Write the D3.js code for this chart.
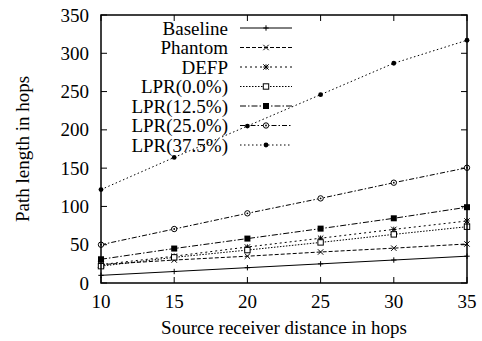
<!DOCTYPE html>
<html><head><meta charset="utf-8">
<script src="https://cdn.jsdelivr.net/npm/d3@7"></script>
<style>
body{margin:0;background:#fff;}
text{font-family:"Liberation Serif","Times New Roman",serif;fill:#000;}
</style></head>
<body><svg id="c" width="482" height="341"></svg>
<script>
const distances = [10, 15, 20, 25, 30, 35];
const seriesNames = ["Baseline","Phantom","DEFP","LPR(0.0%)","LPR(12.5%)","LPR(25.0%)","LPR(37.5%)"];
const baseline = [10, 15, 20, 25, 30, 35];
const phantom = [24, 30, 35, 40.5, 45.5, 51];
const defp = [24, 35, 47, 58.5, 70, 81];
const lpr00 = [22, 33.5, 43, 53, 63.5, 73.5];
const lpr125 = [31, 45, 58, 71, 84.5, 99];
const lpr250 = [50, 70.5, 91, 110.5, 131, 150.5];
const lpr375 = [122, 164, 205, 246, 287, 317];
const xTicks = [10, 15, 20, 25, 30, 35];
const yTicks = [0, 50, 100, 150, 200, 250, 300, 350];

const allValues = [baseline, phantom, defp, lpr00, lpr125, lpr250, lpr375];
const dashes = [null, "4,2", "2,3", "1.5,1.5", "6,2,1.5,2", "5,2,1.5,2", "1.5,2.5"];
const markers = ["plus","cross","star","osquare","fsquare","ocircle","fcircle"];

const svg = d3.select("#c");
const L=101, R=467, T=15, B=283;
const x = d3.scaleLinear().domain([10,35]).range([L,R]);
const y = d3.scaleLinear().domain([0,350]).range([B,T]);
const FS = "19px";

function drawMarker(g, type, cx, cy){
  const s=2.7;
  if(type==="plus"||type==="star"){
    g.append("line").attr("x1",cx-s).attr("x2",cx+s).attr("y1",cy).attr("y2",cy).attr("stroke","#000").attr("stroke-width",1);
    g.append("line").attr("x1",cx).attr("x2",cx).attr("y1",cy-s).attr("y2",cy+s).attr("stroke","#000").attr("stroke-width",1);
  }
  if(type==="cross"||type==="star"){
    g.append("line").attr("x1",cx-s).attr("x2",cx+s).attr("y1",cy-s).attr("y2",cy+s).attr("stroke","#000").attr("stroke-width",1);
    g.append("line").attr("x1",cx-s).attr("x2",cx+s).attr("y1",cy+s).attr("y2",cy-s).attr("stroke","#000").attr("stroke-width",1);
  }
  if(type==="osquare"){
    g.append("rect").attr("x",cx-s).attr("y",cy-s).attr("width",2*s).attr("height",2*s).attr("fill","#fff").attr("stroke","#000").attr("stroke-width",1);
  }
  if(type==="fsquare"){
    g.append("rect").attr("x",cx-s-0.3).attr("y",cy-s-0.3).attr("width",2*s+0.6).attr("height",2*s+0.6).attr("fill","#000");
  }
  if(type==="ocircle"){
    g.append("circle").attr("cx",cx).attr("cy",cy).attr("r",s).attr("fill","#fff").attr("stroke","#000").attr("stroke-width",1);
    g.append("circle").attr("cx",cx).attr("cy",cy).attr("r",0.9).attr("fill","#000");
  }
  if(type==="fcircle"){
    g.append("circle").attr("cx",cx).attr("cy",cy).attr("r",s-0.3).attr("fill","#000");
  }
}

// ticks (inward, mirrored)
const tk = svg.append("g");
xTicks.forEach(v=>{
  tk.append("line").attr("x1",x(v)).attr("x2",x(v)).attr("y1",B).attr("y2",B-6).attr("stroke","#000");
  tk.append("line").attr("x1",x(v)).attr("x2",x(v)).attr("y1",T).attr("y2",T+6).attr("stroke","#000");
  svg.append("text").attr("x",x(v)).attr("y",308).attr("text-anchor","middle").style("font-size",FS).text(v);
});
yTicks.forEach(v=>{
  tk.append("line").attr("x1",L).attr("x2",L+6).attr("y1",y(v)).attr("y2",y(v)).attr("stroke","#000");
  tk.append("line").attr("x1",R).attr("x2",R-6).attr("y1",y(v)).attr("y2",y(v)).attr("stroke","#000");
  svg.append("text").attr("x",89).attr("y",y(v)+6.5).attr("text-anchor","end").style("font-size",FS).text(v);
});

// series
const line = d3.line().x((d,i)=>x(distances[i])).y(d=>y(d));
allValues.forEach((vals,k)=>{
  const g = svg.append("g");
  g.append("path").attr("d",line(vals)).attr("fill","none").attr("stroke","#000").attr("stroke-width",1)
    .attr("stroke-dasharray",dashes[k]);
  vals.forEach((v,i)=>drawMarker(g,markers[k],x(distances[i]),y(v)));
});

// legend
const legY = [28, 47.5, 67, 86.5, 106, 125.5, 145];
seriesNames.forEach((n,k)=>{
  const yy = legY[k];
  svg.append("text").attr("x",228).attr("y",yy+6.5).attr("text-anchor","end").style("font-size",FS).text(n);
  const g = svg.append("g");
  g.append("line").attr("x1",240).attr("x2",292).attr("y1",yy).attr("y2",yy).attr("stroke","#000").attr("stroke-width",1).attr("stroke-dasharray",dashes[k]);
  drawMarker(g,markers[k],266,yy);
});

// frame
svg.append("rect").attr("x",L).attr("y",T).attr("width",R-L).attr("height",B-T).attr("fill","none").attr("stroke","#000").attr("stroke-width",1.5);

// axis titles
svg.append("text").attr("x",(L+R)/2).attr("y",334).attr("text-anchor","middle").style("font-size",FS).text("Source receiver distance in hops");
svg.append("text").attr("transform",`translate(29,${(T+B)/2}) rotate(-90)`).attr("text-anchor","middle").style("font-size",FS).text("Path length in hops");
</script></body></html>
